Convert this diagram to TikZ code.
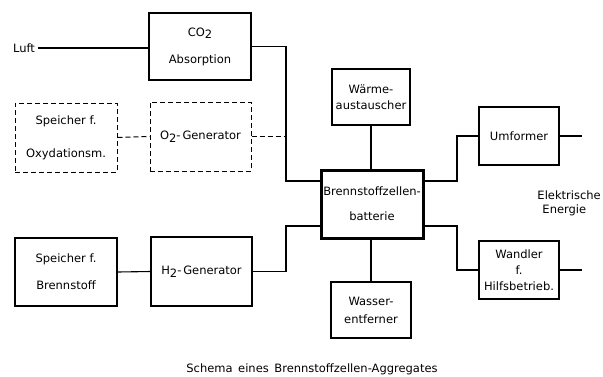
\documentclass[tikz,border=0pt]{standalone}
\usepackage{fontspec}
\setmainfont{DejaVu Sans}
\begin{document}
\begin{tikzpicture}[x=1pt,y=-1pt,
  every node/.style={font=\fontsize{11.5}{14}\selectfont, inner sep=0pt, align=center},
  box/.style={draw, line width=1.1pt, minimum width=#1},
  dbox/.style={draw, dash pattern=on 5pt off 3pt, line width=1pt, minimum width=#1},
  ln/.style={line width=1.1pt},
  dln/.style={line width=1pt, dash pattern=on 5pt off 3pt}]
\newcommand{\lowtwo}{\raisebox{-0.45ex}{2}}
\useasboundingbox (0,0) rectangle (603,376);
\fill[white] (0,0) rectangle (603,376);
% boxes
\node[box=102pt, minimum height=67pt] (co2) at (200,46.5) {CO\lowtwo\\[13pt]Absorption};
\node[dbox=102pt, minimum height=69pt] (spo) at (66,137.5) {Speicher f.\\[19pt]Oxydationsm.};
\node[dbox=101pt, minimum height=69pt] (o2) at (200.5,136.5) {O\lowtwo-\,Generator};
\node[box=78pt, minimum height=56pt] (waerme) at (371,97) {Wärme-\\[2pt]austauscher};
\node[draw, line width=3pt, minimum width=102pt, minimum height=68pt] (central) at (372,204) {Brennstoffzellen-\\[11pt]batterie};
\node[box=80pt, minimum height=58pt] (umf) at (519,136) {Umformer};
\node[box=80pt, minimum height=58pt] (wandler) at (519,270) {Wandler\\[2pt]f.\\[2pt]Hilfsbetrieb.};
\node[box=80pt, minimum height=56pt] (wasser) at (371,310) {Wasser-\\[4pt]entferner};
\node[box=102pt, minimum height=68pt] (spb) at (66,272) {Speicher f.\\[13pt]Brennstoff};
\node[box=101pt, minimum height=69pt] (h2) at (201.5,271.5) {H\lowtwo-\,Generator};
% texts
\node (luft) at (24,48) {Luft};
\node[align=left, anchor=east] (el) at (601,203) {Elektrische\\\hspace*{5pt}Energie};
\node (cap) at (312,369) {Schema\ \,eines\ \,Brennstoffzellen-Aggregates};
% junction coordinates
\coordinate (jl) at (286,0);
\coordinate (jr) at (457,0);
\coordinate (er) at (582,0);
% connectors
\draw[ln] ([xshift=3pt]luft.east) -- (luft.east -| co2.west);
\draw[ln] (co2.east) -- (co2.east -| jl) |- ([yshift=23pt]central.west);
\draw[dln] (spo.east) -- (o2.west);
\draw[dln] (o2.east) -- (o2.east -| jl);
\draw[ln] (spb.east) -- (h2.west);
\draw[ln] (h2.east) -- (h2.east -| jl) |- ([yshift=-22pt]central.west);
\draw[ln] (waerme.south) -- (waerme.south |- central.north);
\draw[ln] (wasser.north) -- (wasser.north |- central.south);
\draw[ln] ([yshift=23pt]central.east) -| (jr |- umf.west) -- (umf.west);
\draw[ln] ([yshift=-22pt]central.east) -| (jr |- wandler.west) -- (wandler.west);
\draw[ln] (umf.east) -- (umf.east -| er);
\draw[ln] (wandler.east) -- (wandler.east -| er);
\end{tikzpicture}
\end{document}
